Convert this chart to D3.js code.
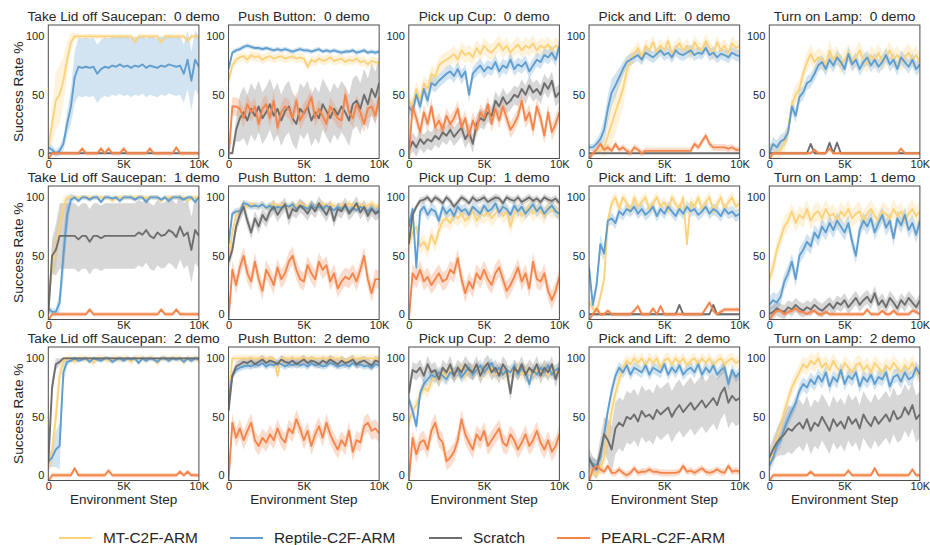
<!DOCTYPE html>
<html>
<head>
<meta charset="utf-8">
<script src="https://cdn.jsdelivr.net/npm/d3@7"></script>
<style>
  body { margin: 0; background: #fff; }
  text { font-family: "Liberation Sans", Arial, sans-serif; fill: #262626; }
</style>
</head>
<body>
<div id="chart"></div>
<script>
const tasks = ["Take Lid off Saucepan", "Push Button", "Pick up Cup", "Pick and Lift", "Turn on Lamp"];
const demos = ["0 demo", "1 demo", "2 demo"];
const seriesNames = ["MT-C2F-ARM", "Reptile-C2F-ARM", "Scratch", "PEARL-C2F-ARM"];
const steps = d3.range(0, 10001, 250); // 41 evaluation points
const xTicks = [0, 5000, 10000];
const yTicks = [0, 50, 100];

// success rate (%) per [demo][task]
const mtC2F = [
  [
    [5,25,45,50,62,80,95,100,100,100,100,100,100,100,100,100,100,100,100,100,100,100,100,95,100,100,100,100,100,100,95,100,100,100,100,100,100,96,100,100,100],
    [62,75,80,82,83,80,84,82,83,80,82,83,81,82,83,81,82,83,81,82,81,74,80,78,81,79,80,82,79,80,81,78,80,79,81,78,79,76,79,78,77],
    [45,40,55,45,60,55,68,65,75,78,80,82,85,80,88,84,86,82,90,85,92,88,86,90,94,88,92,86,90,93,88,92,90,94,88,92,90,93,88,92,90],
    [0,0,0,2,5,15,25,35,45,55,70,80,85,90,82,92,88,95,86,92,88,96,85,90,94,88,92,85,95,90,88,96,90,85,95,88,92,86,94,90,92],
    [0,0,0,3,8,20,42,50,55,68,78,85,78,82,80,76,88,80,84,76,80,86,78,82,88,80,76,84,80,86,78,82,88,80,84,78,82,86,80,84,78]
  ],
  [
    [5,45,55,75,92,100,100,100,100,100,100,100,100,100,100,100,100,97,100,100,100,100,100,100,100,100,100,100,100,100,97,100,100,100,100,100,100,97,100,100,100],
    [45,70,85,90,94,92,95,93,92,94,91,93,95,92,94,93,91,94,92,95,93,92,94,91,93,95,92,94,93,91,94,92,95,93,91,94,92,93,95,92,93],
    [60,70,75,58,62,55,68,60,72,80,82,78,85,82,86,80,84,88,80,86,84,88,82,86,90,84,88,75,86,90,84,88,92,86,90,88,84,92,88,90,85],
    [10,5,2,15,30,80,95,100,90,100,95,88,100,92,96,100,90,95,100,92,96,88,100,94,90,100,60,96,92,100,90,96,100,88,94,100,90,96,100,92,95],
    [30,40,55,65,75,80,88,78,85,82,90,80,86,88,82,90,84,86,80,88,84,90,82,86,88,80,86,90,84,80,88,86,82,90,84,88,80,86,90,84,88]
  ],
  [
    [5,20,50,85,98,99,100,97,100,100,99,100,96,100,100,100,98,100,100,99,100,100,97,100,100,100,99,100,100,96,100,100,99,100,100,100,97,100,99,100,98],
    [65,100,100,100,100,100,100,100,100,100,100,100,100,85,100,100,100,100,100,100,100,100,100,100,100,100,100,100,100,100,100,97,100,100,100,100,100,100,100,100,100],
    [45,55,60,68,75,72,80,85,82,88,84,90,86,88,92,85,90,88,92,86,90,88,92,86,90,88,85,90,88,92,86,90,88,85,90,88,92,86,90,88,90],
    [5,2,0,5,15,35,55,70,82,92,98,95,100,96,100,94,100,96,100,92,98,100,95,100,96,100,94,98,100,95,100,96,100,94,98,100,95,98,100,96,98],
    [8,20,30,42,55,65,75,82,88,95,92,98,95,100,92,96,90,98,92,88,96,92,88,94,96,90,94,88,96,92,88,94,90,96,92,88,94,90,96,88,86]
  ]
];

const reptileC2F = [
  [
    [5,3,0,2,8,25,40,65,74,73,74,73,74,68,72,74,73,75,74,76,74,75,73,75,74,76,73,75,74,73,75,74,76,75,74,75,68,80,62,80,74],
    [72,86,88,89,91,92,91,90,90,89,90,89,88,89,88,89,88,87,88,89,88,88,87,88,89,87,88,87,88,87,86,87,87,88,86,87,88,86,87,86,87],
    [40,35,50,40,55,45,60,58,62,65,68,70,66,72,65,70,50,68,72,75,70,74,72,78,70,75,73,80,72,76,74,78,70,75,80,78,84,82,86,80,92],
    [5,5,8,12,20,38,52,58,65,72,78,80,82,84,80,86,84,82,85,88,84,86,82,88,85,84,86,88,84,86,85,90,84,86,82,85,84,82,86,84,83],
    [0,8,5,10,12,18,40,32,48,52,60,62,68,75,78,72,80,75,82,78,72,85,76,80,72,78,82,75,80,74,78,84,76,80,72,82,78,74,80,72,76]
  ],
  [
    [5,2,2,10,50,85,98,100,97,100,100,98,100,100,96,100,100,99,100,97,100,100,100,98,100,100,96,100,100,100,98,100,97,100,100,100,98,100,100,96,100],
    [60,86,88,88,95,94,92,93,92,94,91,93,90,92,91,93,92,94,90,93,92,90,94,91,92,90,93,91,89,92,90,92,88,91,89,92,90,88,91,87,89],
    [75,90,40,88,92,85,90,88,80,92,86,90,84,92,88,90,85,92,89,86,93,88,90,95,87,92,90,85,93,88,92,86,90,94,88,92,86,90,93,88,86],
    [40,8,25,60,52,80,82,78,88,85,90,88,92,86,90,85,88,92,84,90,86,92,88,84,90,86,92,88,90,85,88,92,86,90,88,84,90,86,88,84,86],
    [8,12,10,15,28,35,45,30,50,55,62,58,70,65,75,70,78,72,80,75,70,78,62,50,72,80,75,82,70,78,85,74,80,65,82,76,85,72,78,68,80]
  ],
  [
    [12,15,22,25,88,97,98,100,98,99,100,97,100,99,98,100,100,97,99,100,98,100,99,100,96,100,98,100,99,97,100,100,98,100,99,100,97,100,98,100,99],
    [65,85,90,92,93,94,93,95,94,96,93,95,94,96,95,93,95,94,96,94,95,93,96,94,95,93,94,96,95,93,94,95,93,96,94,95,93,94,92,95,94],
    [65,55,42,70,78,82,86,84,88,85,82,88,86,90,84,88,92,86,90,94,88,92,96,88,92,86,90,88,94,86,92,88,78,90,86,92,88,94,86,90,92],
    [12,10,8,15,35,55,72,85,92,88,94,86,92,90,88,94,86,92,90,88,95,86,92,88,94,86,90,92,88,95,86,92,88,94,86,90,92,78,90,84,88],
    [8,15,25,30,40,48,55,62,72,78,75,82,78,85,80,88,76,84,80,90,78,85,82,88,76,84,80,86,78,84,82,88,76,84,86,80,88,82,84,92,86]
  ]
];

const scratch = [
  [
    [0,0,0,0,0,0,0,0,0,0,0,0,0,0,0,0,0,0,0,0,0,0,0,0,0,0,0,0,0,0,0,0,0,0,0,0,0,0,0,0,0],
    [0,0,20,30,35,28,38,32,40,30,35,42,32,38,28,36,40,30,25,38,34,40,28,35,30,42,36,30,38,33,40,35,28,42,45,38,50,42,55,48,60],
    [2,10,5,12,8,12,10,15,12,18,15,20,14,18,22,12,18,8,25,30,28,35,32,45,40,48,42,45,50,48,55,50,58,52,55,50,60,55,62,48,52],
    [0,0,0,0,0,0,0,0,0,0,0,0,0,0,0,0,0,0,0,0,0,0,0,0,0,0,0,0,0,0,0,0,0,0,0,0,0,0,0,0,0],
    [0,0,0,0,0,0,0,0,0,0,0,8,0,0,0,0,9,0,9,0,0,0,0,0,0,0,0,0,0,0,0,0,0,0,0,0,0,0,0,0,0]
  ],
  [
    [0,50,55,67,67,67,67,67,64,67,67,62,67,67,65,67,67,67,67,67,67,67,67,67,70,68,72,67,65,70,67,68,72,70,66,75,67,70,55,72,67],
    [45,55,75,85,92,80,70,82,75,85,80,88,92,85,90,94,82,90,88,93,90,86,92,88,95,90,85,92,80,90,88,94,86,90,95,87,92,84,90,86,88],
    [60,85,92,97,98,100,96,100,98,95,100,97,92,96,100,98,95,100,97,98,100,96,98,100,99,95,100,98,97,100,96,98,100,97,99,96,100,98,97,99,95],
    [0,0,0,0,0,0,0,0,0,0,0,0,0,0,0,0,0,0,0,0,0,0,0,0,8,0,0,0,0,0,0,0,0,8,0,0,0,0,0,0,0],
    [0,2,5,3,2,6,4,8,5,3,6,4,8,5,3,6,9,5,10,8,12,6,10,14,8,12,15,10,18,8,12,6,14,10,5,12,8,14,10,6,12]
  ],
  [
    [10,75,95,97,100,100,100,100,100,100,100,100,100,100,100,100,100,100,100,100,100,100,100,100,100,100,100,100,100,100,100,100,100,100,100,100,100,100,100,100,100],
    [55,85,93,95,97,96,98,95,97,99,96,98,97,95,99,97,96,98,95,97,99,96,98,97,95,98,96,99,97,95,98,96,97,99,95,97,98,96,94,98,97],
    [70,90,88,92,85,95,88,90,82,92,88,95,85,92,88,95,90,88,95,85,92,96,88,92,85,95,90,70,92,88,95,86,92,88,95,85,92,88,95,82,92],
    [15,8,5,20,35,30,22,40,45,42,50,48,52,46,55,50,52,48,56,52,55,58,50,56,60,54,58,62,56,60,64,58,62,66,60,70,75,62,68,64,66],
    [15,22,28,32,35,40,38,42,45,40,48,38,45,42,50,44,38,48,42,46,40,50,44,48,40,52,46,42,50,44,48,52,46,55,48,50,58,52,60,48,52]
  ]
];

// PEARL starts at the bottom edge before its first evaluation
const pearlC2F = [
  [
    [-5,0,0,0,0,0,0,0,0,4,0,0,0,0,4,0,4,0,0,0,4,0,0,0,0,0,0,4,0,0,0,0,0,0,5,0,0,0,0,0,0],
    [-5,40,40,38,30,42,35,40,25,38,42,30,45,22,35,40,38,30,45,28,35,40,48,30,38,32,25,40,35,30,28,50,35,30,42,35,25,38,40,32,48],
    [-5,40,30,18,35,25,40,22,28,20,32,25,30,38,22,30,15,28,20,35,30,42,25,38,28,40,30,20,25,32,45,28,35,20,40,30,15,35,18,25,35],
    [-5,0,3,8,3,5,2,8,3,5,2,0,5,3,0,2,2,2,2,2,2,2,2,2,2,2,2,2,8,5,10,15,8,5,5,5,5,4,5,3,3],
    [-5,0,0,0,0,0,0,0,0,0,0,0,3,0,0,0,4,0,0,0,0,0,0,0,0,0,0,0,0,0,0,0,0,0,0,4,0,0,0,0,0]
  ],
  [
    [-5,0,0,0,0,0,0,0,0,0,0,4,0,0,0,0,0,0,0,0,0,0,0,0,0,0,0,0,0,0,4,0,0,0,4,0,0,0,0,0,0],
    [-5,38,25,40,50,35,28,45,30,20,38,32,25,40,30,35,45,50,38,30,28,42,35,30,45,38,42,28,35,22,28,32,30,35,28,38,50,30,18,30,30],
    [-5,35,30,38,28,32,25,30,35,28,30,38,35,48,30,18,28,22,35,30,38,30,25,35,40,30,20,25,32,40,28,35,22,45,30,28,35,20,12,20,32],
    [-5,0,5,0,0,3,0,0,0,0,0,0,3,7,0,0,0,5,0,7,0,0,0,0,0,0,0,0,0,0,0,5,10,3,0,2,4,4,4,4,4],
    [-5,0,3,3,0,2,3,5,2,2,0,2,3,0,0,2,0,0,0,0,0,0,0,0,0,0,4,0,0,0,3,0,0,3,0,0,0,0,3,2,0]
  ],
  [
    [-5,0,0,0,0,0,0,6,0,0,0,0,0,0,0,0,4,0,0,0,0,0,0,0,0,0,0,0,0,0,0,0,0,0,0,3,0,3,0,0,0],
    [-5,45,32,40,30,38,45,30,25,32,28,35,30,40,32,28,40,36,48,40,30,38,25,35,42,32,45,35,28,22,30,25,38,20,30,28,42,45,38,40,36],
    [-5,32,18,28,30,22,38,45,32,28,12,15,20,30,48,35,28,22,35,30,38,25,30,35,40,28,25,35,30,22,28,35,25,30,38,28,22,30,20,25,35],
    [-5,5,8,5,3,8,2,2,5,2,0,2,6,2,3,3,5,3,3,2,2,2,2,2,3,8,3,4,2,4,6,3,2,3,5,3,2,8,3,4,3],
    [-5,0,0,0,0,0,0,0,0,0,0,3,0,0,0,0,0,0,0,0,0,4,0,0,0,0,0,0,6,0,0,0,0,0,0,0,0,0,5,0,0]
  ]
];

// half-width of the shaded band; a list runs over the first steps, then keeps its last value
const mtBand = [
  [[3,15,25,25,20,15,8,3,2], 4, 7, [1,1,1,3,8,15,18,18,18,15,12,8,6], 8],
  [[5,15,15,12,8,3,2], 3, 7, 5, 8],
  [[5,10,15,10,4,3], 3, 6, [3,3,3,5,10,12,12,10,8,6,5], 7]
];
const reptileBand = [
  [[4,4,3,4,6,10,15,22,25], 2, 6, [3,3,4,6,10,12,12,10,8,6,5], 6],
  [[3,3,3,10,20,15,5,2], 3, 5, [8,6,6,8,6,5], 7],
  [[5,8,15,20,10,3,2], 3, 5, 5, 6]
];
const scratchBand = [
  [0.5, [0,0,10,20,22], 8, 0.5, 1],
  [[0,15,22,28], 6, 3, 1, 6],
  [[5,8,5,3,1], 4, 7, [8,8,8,12,15,18,20,22], [8,10,12,15,18,20]]
];
const pearlBand = [
  [2, 8, 7, 3, 1.5],
  [2, 8, 8, 2, 2],
  [2, 8, 8, 3, 2]
];

const colors = ["#fcd27a", "#5f9ecf", "#6e6e6e", "#f5864b"];
const allSeries = [mtC2F, reptileC2F, scratch, pearlC2F];
const allBands = [mtBand, reptileBand, scratchBand, pearlBand];

const width = 930, height = 545;
const panelW = 150.6, panelH = 133.5;
const colX = c => 48.3 + c * 180.25;
const rowY = r => 25 + r * 161;

const svg = d3.select("#chart")
  .append("svg")
  .attr("width", width)
  .attr("height", height);

const x = d3.scaleLinear().domain([0, 10000]).range([0, panelW]);
const y = d3.scaleLinear().domain([-4.5, 109.7]).range([panelH, 0]);

demos.forEach((demo, r) => {
  tasks.forEach((task, c) => {
    const g = svg.append("g")
      .attr("transform", `translate(${colX(c)},${rowY(r)})`);

    const clipId = `clip-${r}-${c}`;
    g.append("clipPath").attr("id", clipId)
      .append("rect").attr("width", panelW).attr("height", panelH);

    const plot = g.append("g").attr("clip-path", `url(#${clipId})`);

    // shaded bands first, then the mean lines on top
    allSeries.forEach((series, k) => {
      const sp = allBands[k][r][c];
      const pts = series[r][c].map((v, i) => {
        const s = Array.isArray(sp) ? sp[Math.min(i, sp.length - 1)] : sp;
        return { step: steps[i], lo: v - s, hi: v + s };
      });
      plot.append("path")
        .datum(pts)
        .attr("fill", colors[k])
        .attr("fill-opacity", 0.28)
        .attr("d", d3.area()
          .x(d => x(d.step))
          .y0(d => y(d.lo))
          .y1(d => y(d.hi)));
    });

    allSeries.forEach((series, k) => {
      plot.append("path")
        .datum(series[r][c])
        .attr("fill", "none")
        .attr("stroke", colors[k])
        .attr("stroke-width", 1.9)
        .attr("stroke-linejoin", "round")
        .attr("d", d3.line()
          .x((d, i) => x(steps[i]))
          .y(d => y(d)));
    });

    // frame
    g.append("rect")
      .attr("width", panelW)
      .attr("height", panelH)
      .attr("fill", "none")
      .attr("stroke", "#4d4d4d")
      .attr("stroke-width", 1);

    g.append("g")
      .call(d3.axisLeft(y).tickValues(yTicks).tickSize(0).tickPadding(4))
      .call(a => a.select(".domain").remove())
      .selectAll("text")
      .style("font-size", "11px")
      .attr("fill", "#262626");

    g.append("g")
      .attr("transform", `translate(0,${panelH})`)
      .call(d3.axisBottom(x).tickValues(xTicks).tickSize(0).tickPadding(2)
        .tickFormat(d => d === 0 ? "0" : d / 1000 + "K"))
      .call(a => a.select(".domain").remove())
      .selectAll("text")
      .style("font-size", "11px")
      .attr("fill", "#262626");

    g.append("text")
      .attr("x", panelW / 2)
      .attr("y", -4)
      .attr("text-anchor", "middle")
      .style("font-size", "13.7px")
      .style("white-space", "pre")
      .text(`${task}:  ${demo}`);

    if (c === 0) {
      g.append("text")
        .attr("transform", `translate(${23 - colX(0)},${panelH / 2})rotate(-90)`)
        .attr("text-anchor", "middle")
        .style("font-size", "13.7px")
        .text("Success Rate %");
    }
    if (r === 2) {
      g.append("text")
        .attr("x", panelW / 2)
        .attr("y", 504 - rowY(2))
        .attr("text-anchor", "middle")
        .style("font-size", "13.5px")
        .text("Environment Step");
    }
  });
});

// Legend
const legendX = [59, 230, 429, 557];
const legend = svg.selectAll(".legend")
  .data(seriesNames)
  .join("g")
  .attr("transform", (d, i) => `translate(${legendX[i]},538)`);

legend.append("line")
  .attr("x1", 0).attr("x2", 33)
  .attr("stroke", (d, i) => colors[i])
  .attr("stroke-width", 2);

legend.append("text")
  .attr("x", 44)
  .attr("dy", "0.35em")
  .style("font-size", "15.4px")
  .text(d => d);

// sanity check on hand-typed lengths
allSeries.forEach((s, k) => s.forEach((row, r) => row.forEach((a, c) => {
  if (a.length !== steps.length) {
    svg.append("text").attr("x", 300).attr("y", 20 + 12 * (k * 15 + r * 5 + c))
      .style("fill", "red").text(`len ${k} ${r} ${c}: ${a.length}`);
  }
})));
</script>
</body>
</html>
